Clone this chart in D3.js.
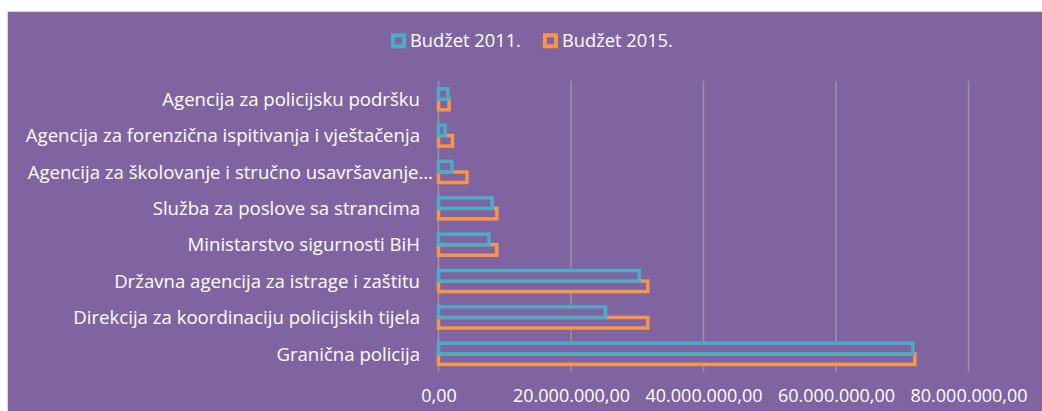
<!DOCTYPE html>
<html>
<head>
<meta charset="utf-8">
<script src="https://cdn.jsdelivr.net/npm/d3@7"></script>
<style>
  body { margin: 0; background: #fff; }
  svg text { font-family: "Open Sans", sans-serif; fill: #fff; }
</style>
</head>
<body>
<div class="graph"></div>
<script>
// Data
const categories = [
  'Agencija za policijsku podršku',
  'Agencija za forenzična ispitivanja i vještačenja',
  'Agencija za školovanje i stručno usavršavanje…',
  'Služba za poslove sa strancima',
  'Ministarstvo sigurnosti BiH',
  'Državna agencija za istrage i zaštitu',
  'Direkcija za koordinaciju policijskih tijela',
  'Granična policija'
];
const seriesNames = ['Budžet 2011.', 'Budžet 2015.'];
const budget2011 = [1400000, 1000000, 2000000, 8100000, 7600000, 30300000, 25200000, 71600000];
const budget2015 = [1600000, 2100000, 4300000, 8800000, 8800000, 31600000, 31600000, 71900000];
const xTicks = [0, 20000000, 40000000, 60000000, 80000000];

document.addEventListener('DOMContentLoaded', function () {
  const width = 1042;
  const height = 411;
  const colors = ['#4BACC6', '#F79646'];
  const bg = '#8064A2';

  const svg = d3.select('.graph')
    .append('svg')
    .attr('width', width)
    .attr('height', height)
    .style('display', 'block');

  // chart background
  svg.append('rect')
    .attr('x', 7.5)
    .attr('y', 11.5)
    .attr('width', width)
    .attr('height', height)
    .attr('fill', bg)
    .attr('stroke', '#d9d9d9')
    .attr('stroke-width', 1);

  const x = d3.scaleLinear().domain([0, 80000000]).range([438.5, 968.5]);
  const y = d3.scaleBand().domain(categories).range([81, 372])
    .paddingInner(0.42).paddingOuter(0.21);
  const ys = d3.scaleBand().domain(seriesNames).range([0, y.bandwidth()]);

  // gridlines
  svg.append('g')
    .selectAll('line')
    .data(xTicks)
    .enter()
    .append('line')
    .attr('x1', d => x(d))
    .attr('x2', d => x(d))
    .attr('y1', 81)
    .attr('y2', 372)
    .attr('stroke', '#979797')
    .attr('stroke-width', 1.5);

  // x axis labels
  const locale = d3.formatLocale({ decimal: ',', thousands: '.', grouping: [3], currency: ['', ''] });
  const fmt = locale.format(',.2f');
  const xAxis = svg.append('g')
    .attr('transform', 'translate(0,372)')
    .call(d3.axisBottom(x).tickValues(xTicks).tickFormat(fmt).tickSize(0));
  xAxis.select('.domain').remove();
  xAxis.selectAll('text')
    .attr('y', 30)
    .attr('dy', 0)
    .attr('fill', '#fff')
    .style('font-size', '18px');

  // bars: 2015 first so 2011 sits on top
  const rows = categories.map((c, i) => ({ cat: c, values: [budget2011[i], budget2015[i]] }));
  [1, 0].forEach(s => {
    svg.append('g')
      .selectAll('rect')
      .data(rows)
      .enter()
      .append('rect')
      .attr('x', x(0))
      .attr('y', d => y(d.cat) + ys(seriesNames[s]))
      .attr('width', d => x(d.values[s]) - x(0))
      .attr('height', ys.bandwidth())
      .attr('fill', bg)
      .attr('stroke', colors[s])
      .attr('stroke-width', 3.5);
  });

  // category labels
  svg.append('g')
    .selectAll('text')
    .data(categories)
    .enter()
    .append('text')
    .attr('x', d => d.endsWith('…') ? 433 : 420)
    .attr('y', d => y(d) + y.bandwidth() / 2)
    .attr('dy', '0.36em')
    .attr('text-anchor', 'end')
    .style('font-size', '18.6px')
    .text(d => d);

  // legend
  const legend = svg.append('g').attr('class', 'legend');
  let lx = 393;
  seriesNames.forEach((name, i) => {
    legend.append('rect')
      .attr('x', lx)
      .attr('y', 35.3)
      .attr('width', 11)
      .attr('height', 11)
      .attr('fill', bg)
      .attr('stroke', colors[i])
      .attr('stroke-width', 4);
    const t = legend.append('text')
      .attr('x', lx + 17)
      .attr('y', 47.3)
      .style('font-size', '18.3px')
      .text(name);
    lx += 17 + t.node().getComputedTextLength() + 24;
  });
});
</script>
</body>
</html>
